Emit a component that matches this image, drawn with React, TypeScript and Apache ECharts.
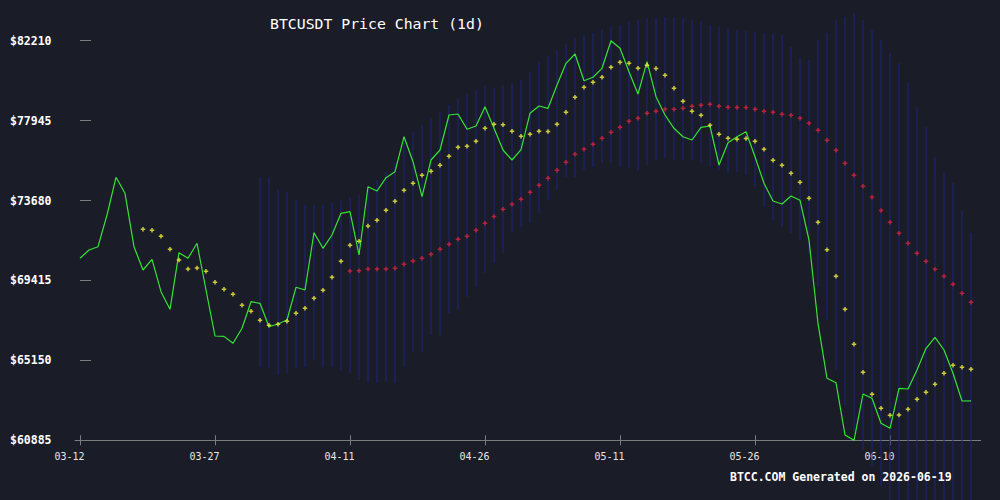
import React, { useEffect, useRef } from "react";
import * as echarts from "echarts";

const tickIndex = [0, 15, 30, 45, 60, 75, 90];
const tickLabels = ["03-12", "03-27", "04-11", "04-26", "05-11", "05-26", "06-10"];

const yMin = 60885;
const yMax = 82210;
const yStep = 4265;

const price = [
  70598, 71041, 71217, 72908, 74920, 74066, 71217, 69973, 70544, 68815,
  67876, 70896, 70598, 71398, 68906, 66451, 66430, 66061, 66862, 68281,
  68196, 66947, 67091, 67305, 69050, 68906, 71964, 71131, 71841, 72999,
  73084, 70774, 74419, 74189, 74899, 75219, 77087, 75753, 73885, 75843,
  76377, 78245, 78298, 77482, 77658, 78688, 77535, 76377, 75843, 76400,
  78336, 78725, 78602, 79846, 81004, 81500, 80075, 80257, 80737, 82210,
  81804, 80556, 79366, 81089, 79222, 78245, 77535, 77087, 76911, 77589,
  77658, 75577, 76767, 77087, 77354, 76020, 74600, 73655, 73495, 73922,
  73693, 71574, 67129, 64194, 63959, 61168, 60885, 63356, 63126, 61792,
  61525, 63660, 63623, 64637, 65795, 66382, 65704, 64460, 62982, 62990,
];

const maShortStart = 7;
const maShort = [
  72144, 72091, 71771, 71077, 70506, 70026, 70079, 69903, 69316, 68942,
  68675, 68088, 67768, 67288, 67021, 67074, 67234, 67661, 67928, 68462,
  68889, 69583, 70437, 71291, 71504, 72320, 72625, 73158, 73639, 74226,
  74599, 75026, 75240, 75560, 76040, 76521, 76574, 76841, 77535, 77748,
  77730, 77375, 77108, 77215, 77380, 77370, 77748, 78389, 79189, 79723,
  79990, 80257, 80790, 81057, 81004, 80737, 80897, 80720, 80363, 79670,
  78976, 78442, 78229, 77695, 77215, 77001, 76948, 76990, 76841, 76414,
  75827, 75560, 75133, 74653, 73799, 72518, 71050, 69636, 67875, 66007,
  64512, 63338, 62591, 62218, 62230, 62538, 63072, 63445, 63872, 64459,
  64886, 64779, 64673,
];

const maLongStart = 30;
const maLong = [
  69919, 69930, 70026, 70030, 70030, 70063, 70277, 70453, 70597, 70810,
  71077, 71344, 71611, 71771, 72091, 72465, 72828, 73212, 73479, 73746,
  74119, 74493, 74866, 75293, 75720, 76147, 76414, 76681, 77001, 77321,
  77588, 77908, 78068, 78335, 78442, 78549, 78550, 78602, 78709, 78762,
  78816, 78709, 78656, 78650, 78645, 78549, 78442, 78389, 78282, 78229,
  78068, 77802, 77428, 76894, 76361, 75667, 75026, 74439, 73852, 73148,
  72518, 71931, 71397, 70864, 70437, 70010, 69636, 69209, 68729, 68248,
];

const bandStart = 20;
const bandUpper = [
  74936, 74920, 74242, 74135, 73708, 73441, 73450, 73440, 73548, 73708,
  73815, 73975, 74348, 74775, 75202, 75683, 76910, 77337, 77711, 78084,
  78405, 78778, 79152, 79365, 79579, 79792, 79685, 79846, 79952, 80112,
  80539, 81073, 81393, 81713, 82034, 82354, 82514, 82621, 82781, 82941,
  83048, 83208, 83315, 83421, 83410, 83475, 83470, 83421, 83315, 83208,
  83048, 82941, 82888, 82781, 82728, 82674, 82621, 82610, 82514, 81874,
  81287, 81180, 82247, 82621, 83315, 83475, 83688, 83315, 82781, 82247,
  81553, 81020, 79952, 78671, 77604, 76003, 75149, 74615, 73174, 71947,
];
const bandLower = [
  64795, 64742, 64368, 64475, 64742, 64795, 65169, 64790, 64795, 64635,
  64475, 64101, 63995, 63941, 63995, 63941, 64795, 65596, 65590, 66503,
  66500, 67677, 67837, 68531, 69065, 69812, 70346, 70879, 71947, 72267,
  72480, 73014, 73708, 74242, 74936, 74930, 75309, 75469, 75683, 75680,
  75469, 75416, 75309, 75576, 75843, 75950, 75840, 75843, 75845, 75683,
  75469, 75309, 75149, 75202, 75042, 74402, 73334, 72641, 72267, 71947,
  71573, 70879, 69065, 67304, 64635, 62767, 61380, 60366, 59511, 58445,
  57537, 56897, 56630, 56683, 56577, 57217, 57163, 56790, 57163, 57323,
];

const BG = "#1a1c27";
const AXIS = "#7d7d7d";
const GREEN = "#36e336";
const YELLOW = "#f5f53c";
const RED = "#e0223f";
const BAND = "rgba(30,34,128,0.5)";
const MONO = '"DejaVu Sans Mono", "Liberation Mono", monospace';

export default function App() {
  const ref = useRef<HTMLDivElement>(null);

  useEffect(() => {
    document.body.style.margin = "0";
    document.body.style.background = BG;
    const chart = echarts.init(ref.current!, null, { renderer: "svg" });
    const plus = "path://M1,0H2V1H3V2H2V3H1V2H0V1H1Z";
    const xMin = -5 / 9;
    const xMax = xMin + 905.7 / 9;

    const lineData = price.map((v, i) => [i, v]);
    const shortData = maShort.map((v, i) => [i + maShortStart, v]);
    const longData = maLong.map((v, i) => [i + maLongStart, v]);
    const bandData = bandUpper.map((u, i) => [i + bandStart, bandLower[i], u]);

    const labelFor = (v: number) => {
      const k = tickIndex.indexOf(Math.round(v));
      return k >= 0 ? tickLabels[k] : "";
    };

    chart.setOption({
      animation: false,
      backgroundColor: BG,
      grid: { left: 75, right: 19.3, top: 40.7, bottom: 59.7 },
      xAxis: [
        {
          type: "value",
          min: xMin,
          max: xMax,
          axisLine: { show: true, lineStyle: { color: AXIS, width: 1 } },
          axisTick: { show: true, customValues: tickIndex, length: 5, lineStyle: { color: AXIS, width: 1 } },
          axisLabel: {
            customValues: tickIndex,
            formatter: labelFor,
            color: "#e6e6e6",
            fontFamily: MONO,
            fontSize: 10,
            margin: 11,
            padding: [0, 21, 0, 0],
          },
          splitLine: { show: false },
        },
        {
          type: "value",
          min: xMin,
          max: xMax,
          position: "bottom",
          axisLine: { show: false },
          axisTick: { show: true, inside: true, customValues: tickIndex, length: 5, lineStyle: { color: AXIS, width: 1 } },
          axisLabel: { show: false },
          splitLine: { show: false },
        },
      ],
      yAxis: {
        type: "value",
        min: yMin,
        max: yMax,
        interval: yStep,
        axisLine: { show: false },
        axisTick: { show: true, inside: true, length: 11, lineStyle: { color: AXIS, width: 1 } },
        axisLabel: {
          formatter: (v: number) => "$" + Math.round(v),
          align: "left",
          margin: 65,
          color: "#ffffff",
          fontFamily: MONO,
          fontWeight: "bold",
          fontSize: 11.5,
        },
        splitLine: { show: false },
      },
      graphic: [
        {
          type: "text",
          x: 270,
          y: 23,
          z: 100,
          style: {
            text: "BTCUSDT Price Chart (1d)",
            fill: "#ffffff",
            font: '14.8px "DejaVu Sans Mono"',
            align: "left",
            verticalAlign: "middle",
          },
        },
        {
          type: "text",
          x: 730,
          y: 477,
          z: 100,
          style: {
            text: "BTCC.COM Generated on 2026-06-19",
            fill: "#ffffff",
            font: 'bold 11.5px "DejaVu Sans Mono"',
            align: "left",
            verticalAlign: "middle",
          },
        },
      ],
      series: [
        {
          type: "custom",
          xAxisIndex: 0,
          renderItem: (_params: any, api: any) => {
            const x = api.value(0);
            const p1 = api.coord([x, api.value(1)]);
            const p2 = api.coord([x, api.value(2)]);
            return {
              type: "line",
              shape: { x1: p1[0], y1: p1[1], x2: p2[0], y2: p2[1] },
              style: { stroke: BAND, lineWidth: 2 },
            };
          },
          data: bandData,
          encode: { x: 0, y: [1, 2] },
          clip: false,
          silent: true,
          z: 1,
        },
        {
          type: "line",
          xAxisIndex: 0,
          data: lineData,
          showSymbol: false,
          lineStyle: { color: GREEN, width: 1.2 },
          silent: true,
          z: 3,
        },
        {
          type: "scatter",
          xAxisIndex: 0,
          data: shortData,
          symbol: plus,
          symbolSize: 4.5,
          itemStyle: { color: YELLOW },
          silent: true,
          z: 4,
        },
        {
          type: "scatter",
          xAxisIndex: 0,
          data: longData,
          symbol: plus,
          symbolSize: 4.5,
          itemStyle: { color: RED },
          silent: true,
          z: 4,
        },
      ],
    });

    return () => chart.dispose();
  }, []);

  return <div ref={ref} style={{ width: 1000, height: 500 }} />;
}
